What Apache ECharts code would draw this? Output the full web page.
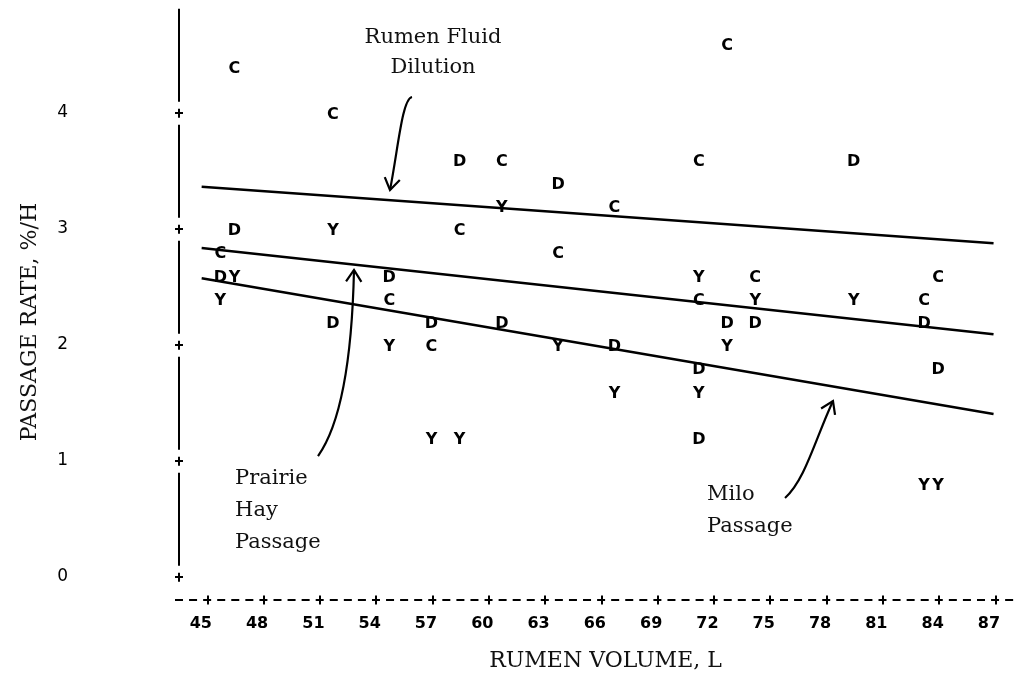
<!DOCTYPE html>
<html>
<head>
<meta charset="utf-8">
<title>Passage rate vs rumen volume</title>
<script src="https://cdn.jsdelivr.net/npm/echarts@6.0.0/dist/echarts.min.js"></script>
<style>
  html, body { margin: 0; padding: 0; background: #fff; }
  #chart { width: 1021px; height: 676px; }
</style>
</head>
<body>
<div id="chart"></div>
<script>
// ---- data ----------------------------------------------------------
// Tick values: rumen volume (L) and passage rate (%/h)
const xTicks = [45, 48, 51, 54, 57, 60, 63, 66, 69, 72, 75, 78, 81, 84, 87];
const yTicks = [0, 1, 2, 3, 4];

// Observations by plotting code, [rumen volume L, passage rate %/h]
const pointsC = [
  [46.5, 4.4], [51.75, 4.0], [60.75, 3.6], [71.25, 3.6], [72.75, 4.6],
  [66.75, 3.2], [58.5, 3.0], [45.75, 2.8], [63.75, 2.8], [54.75, 2.4],
  [57, 2.0], [71.25, 2.4], [74.25, 2.6], [84, 2.6], [83.25, 2.4]
];
const pointsD = [
  [58.5, 3.6], [63.75, 3.4], [79.5, 3.6], [46.5, 3.0], [45.75, 2.6],
  [54.75, 2.6], [51.75, 2.2], [57, 2.2], [60.75, 2.2], [66.75, 2.0],
  [72.75, 2.2], [74.25, 2.2], [83.25, 2.2], [71.25, 1.8], [84, 1.8],
  [71.25, 1.2]
];
const pointsY = [
  [60.75, 3.2], [51.75, 3.0], [46.5, 2.6], [45.75, 2.4], [54.75, 2.0],
  [63.75, 2.0], [71.25, 2.6], [74.25, 2.4], [79.5, 2.4], [72.75, 2.0],
  [66.75, 1.6], [71.25, 1.6], [57, 1.2], [58.5, 1.2], [83.25, 0.8],
  [84, 0.8]
];

// Fitted regression lines, end points [volume, rate]
const dilutionFit = [[44.7, 3.365], [86.9, 2.877]];
const hayFit      = [[44.7, 2.837], [86.9, 2.092]];
const miloFit     = [[44.7, 2.575], [86.9, 1.405]];

const fitNames = ['Rumen Fluid Dilution', 'Prairie Hay Passage', 'Milo Passage'];

// ---- styling / layout ----------------------------------------------
const SERIF = '"DejaVu Serif", "Liberation Serif", serif';
const SANS = '"DejaVu Sans", "Liberation Sans", sans-serif';
const INK = '#000000';

const X_MIN = 43.279, X_MAX = 88.203;
const Y_MIN = -0.04, Y_MAX = 4.9;

function letterSeries(code, pts) {
  return {
    type: 'scatter',
    name: code,
    data: pts,
    symbol: 'circle',
    symbolSize: 1,
    itemStyle: { color: INK, opacity: 0 },
    label: {
      show: true,
      position: 'inside',
      formatter: code,
      offset: [-1, 2],
      fontFamily: SANS,
      fontSize: 16,
      fontWeight: 'bold',
      color: INK,
      opacity: 1,
      textBorderWidth: 0
    },
    clip: false,
    silent: true,
    z: 3,
    emphasis: { disabled: true }
  };
}

function fitSeries(name, pts) {
  return {
    type: 'line',
    name: name,
    data: pts,
    symbol: 'none',
    showSymbol: false,
    lineStyle: { color: INK, width: 2.5 },
    silent: true,
    z: 2,
    emphasis: { disabled: true }
  };
}

const xAxisBase = {
  type: 'value',
  gridIndex: 0,
  min: X_MIN,
  max: X_MAX,
  position: 'bottom',
  offset: 18.36,
  splitLine: { show: false }
};
const yAxisBase = {
  type: 'value',
  gridIndex: 0,
  min: Y_MIN,
  max: Y_MAX,
  position: 'left',
  offset: -4,
  splitLine: { show: false }
};

const option = {
  animation: false,
  backgroundColor: '#fff',
  grid: {
    left: 175, right: 3, top: 8.6, bottom: 94.36,
    containLabel: false,
    outerBoundsMode: 'none'
  },
  xAxis: [
    Object.assign({}, xAxisBase, {
      name: 'RUMEN VOLUME, L',
      nameLocation: 'middle',
      nameGap: 50,
      nameTextStyle: { fontFamily: SERIF, fontSize: 22, color: '#111', padding: [0, 0, 0, 18] },
      axisLine: {
        show: true, onZero: false,
        lineStyle: { color: INK, width: 2, type: [8, 6.07], dashOffset: 0, cap: 'butt' }
      },
      axisTick: {
        show: true, inside: false, length: 4.5, customValues: xTicks,
        lineStyle: { color: INK, width: 2 }
      },
      axisLabel: {
        show: true, customValues: xTicks, margin: 16,
        fontFamily: SANS, fontSize: 16, fontWeight: 'bold', color: INK,
        padding: [0, 13, 0, 0]
      }
    }),
    Object.assign({}, xAxisBase, {
      axisLine: { show: false, onZero: false },
      axisTick: {
        show: true, inside: true, length: 4.5, customValues: xTicks,
        lineStyle: { color: INK, width: 2 }
      },
      axisLabel: { show: false }
    })
  ],
  yAxis: [
    Object.assign({}, yAxisBase, {
      name: 'PASSAGE RATE, %/H',
      nameLocation: 'middle',
      nameGap: 138,
      nameTextStyle: { fontFamily: SERIF, fontSize: 22, color: '#111', padding: [0, 54, 0, 0] },
      axisLine: {
        show: true, onZero: false,
        lineStyle: { color: INK, width: 2, type: [9, 7, 93, 7], dashOffset: 0, cap: 'butt' }
      },
      axisTick: {
        show: true, inside: false, length: 4, customValues: yTicks,
        lineStyle: { color: INK, width: 2 }
      },
      axisLabel: {
        show: true, customValues: yTicks, margin: 111,
        fontFamily: SANS, fontSize: 17, color: INK
      }
    }),
    Object.assign({}, yAxisBase, {
      axisLine: { show: false, onZero: false },
      axisTick: {
        show: true, inside: true, length: 4, customValues: yTicks,
        lineStyle: { color: INK, width: 2 }
      },
      axisLabel: { show: false }
    })
  ],
  series: [
    fitSeries(fitNames[0], dilutionFit),
    fitSeries(fitNames[1], hayFit),
    fitSeries(fitNames[2], miloFit),
    letterSeries('C', pointsC),
    letterSeries('D', pointsD),
    letterSeries('Y', pointsY)
  ]
};

const chart = echarts.init(document.getElementById('chart'), null, { renderer: 'canvas' });
chart.setOption(option);

// ---- annotations (placed in data units, converted to pixels) ----------
const notes = [
  { text: 'Rumen Fluid\nDilution', at: [57.03, 4.647], align: 'center', lineHeight: 30 },
  { text: 'Prairie\nHay\nPassage', at: [46.48, 0.853], align: 'left', lineHeight: 32 },
  { text: 'Milo\nPassage', at: [71.63, 0.707], align: 'left', lineHeight: 32 }
];
// Curved pointers: start, control 1, control 2, tip
const pointers = [
  [[55.909, 4.138], [55.376, 4.121], [55.162, 3.681], [54.736, 3.336]],
  [[50.900, 1.043], [52.072, 1.310], [52.711, 1.871], [52.818, 2.647]],
  [[75.787, 0.681], [76.853, 0.836], [77.384, 1.181], [78.343, 1.517]]
];

const toPx = p => chart.convertToPixel({ seriesIndex: 0 }, p);

function arrowHead(tip, from, len, ang) {
  const dx = from[0] - tip[0], dy = from[1] - tip[1];
  const d = Math.hypot(dx, dy) || 1;
  const ux = dx / d, uy = dy / d;
  const arm = a => [
    tip[0] + len * (ux * Math.cos(a) - uy * Math.sin(a)),
    tip[1] + len * (ux * Math.sin(a) + uy * Math.cos(a))
  ];
  return [arm(ang), tip, arm(-ang)];
}

const elements = [];
pointers.forEach(function (ctrl) {
  const p = ctrl.map(toPx);
  elements.push({
    type: 'bezierCurve',
    silent: true,
    shape: {
      x1: p[0][0], y1: p[0][1],
      cpx1: p[1][0], cpy1: p[1][1],
      cpx2: p[2][0], cpy2: p[2][1],
      x2: p[3][0], y2: p[3][1]
    },
    style: { stroke: INK, lineWidth: 2.2, fill: null }
  });
  elements.push({
    type: 'polyline',
    silent: true,
    shape: { points: arrowHead(p[3], p[2], 14, 0.58) },
    style: { stroke: INK, lineWidth: 2.2, fill: null }
  });
});
notes.forEach(function (n) {
  const p = toPx(n.at);
  elements.push({
    type: 'text',
    silent: true,
    x: p[0],
    y: p[1] - n.lineHeight / 2,
    style: {
      text: n.text,
      fontFamily: SERIF,
      fontSize: 21,
      lineHeight: n.lineHeight,
      fill: '#111',
      align: n.align,
      verticalAlign: 'top'
    }
  });
});
chart.setOption({ graphic: { elements: elements } });
</script>
</body>
</html>
